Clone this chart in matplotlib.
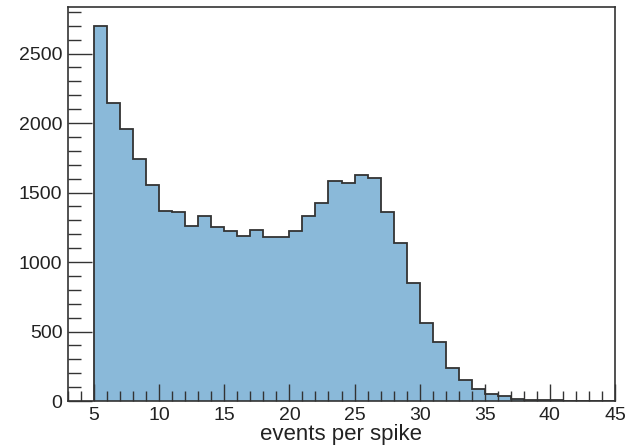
import matplotlib
matplotlib.use("Agg")
import matplotlib.pyplot as plt
import numpy as np
from matplotlib.ticker import MultipleLocator

plt.rcParams["font.family"] = ["Liberation Sans", "DejaVu Sans"]

FILL, EDGE, FRAME = "#8ab9d9", "#333333", "#333333"

# counts per unit bin, events per spike 5..45
bin_lo = 5
counts = [2700, 2144, 1954, 1740, 1552, 1365, 1363, 1259, 1329, 1254,
          1221, 1185, 1230, 1178, 1182, 1221, 1332, 1427, 1581, 1568,
          1627, 1605, 1363, 1139, 846, 560, 421, 238, 149, 84,
          50, 38, 17, 8, 6, 5, 3, 0, 0, 0]
edges = np.arange(bin_lo, bin_lo + len(counts) + 1)

fig = plt.figure(figsize=(6.43, 4.47), dpi=100)
ax = fig.add_axes([68 / 643, 1 - 401 / 447, (615 - 68) / 643, (401 - 7) / 447])

ax.stairs(counts, edges, fill=True, color=FILL, lw=0)
ax.stairs(counts, edges, color=EDGE, lw=1.3, baseline=0)

ax.set_xlim(3, 45)
ax.set_ylim(0, max(counts) * 1.05)

ax.xaxis.set_major_locator(MultipleLocator(5))
ax.xaxis.set_minor_locator(MultipleLocator(1))
ax.yaxis.set_major_locator(MultipleLocator(500))
ax.yaxis.set_minor_locator(MultipleLocator(100))
ax.set_xticks(np.arange(5, 46, 5))

ax.tick_params(axis="x", which="major", direction="in", length=12, width=1,
               color=FRAME, labelsize=14, pad=4)
ax.tick_params(axis="x", which="minor", direction="in", length=7, width=1,
               color=FRAME)
ax.tick_params(axis="y", which="major", direction="in", length=17, width=1,
               color=FRAME, labelsize=14, pad=4)
ax.tick_params(axis="y", which="minor", direction="in", length=9, width=1,
               color=FRAME)
for lab in ax.get_xticklabels() + ax.get_yticklabels():
    lab.set_color("#222222")

for s in ax.spines.values():
    s.set_color(FRAME)
    s.set_linewidth(1.2)

fig.text(0.5 * (68 + 615) / 643, 1 - 440 / 447, "events per spike",
         fontsize=16, color="#222222", ha="center", va="baseline")

fig.savefig("out.png", dpi=100, facecolor="white")
